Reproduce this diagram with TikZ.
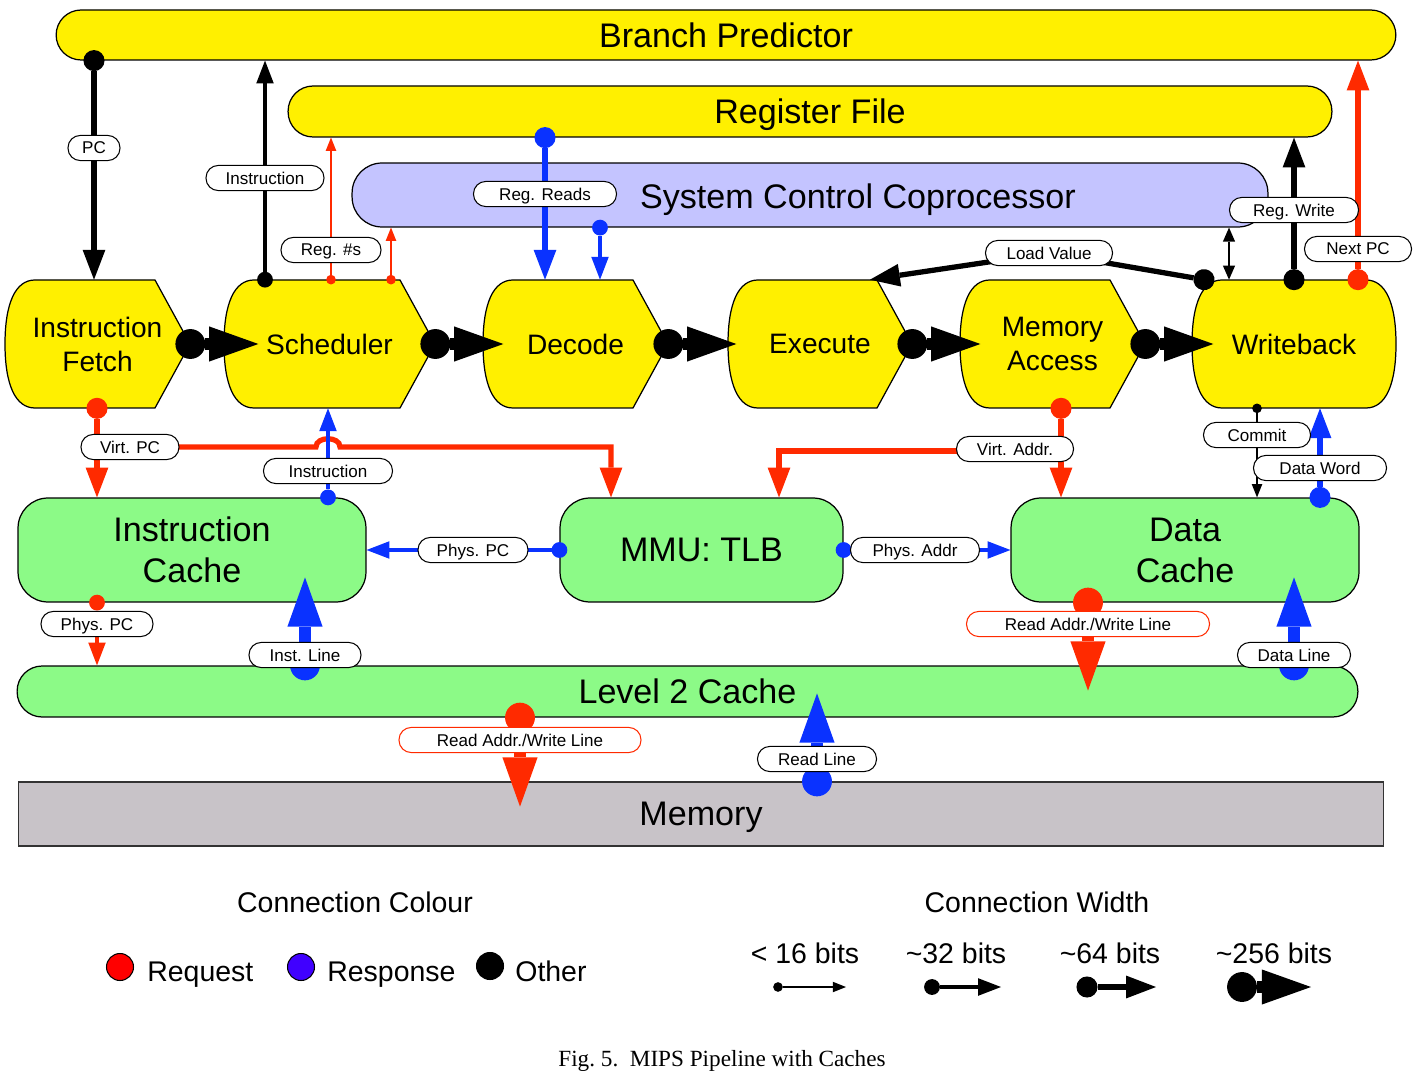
\documentclass[tikz,border=0pt]{standalone}
\usepackage{fontspec}
\setmainfont{Liberation Sans}
\newfontfamily\capfont{Liberation Serif}
\usepackage{xcolor}
\usepackage{tikz}
\usetikzlibrary{arrows.meta}

\definecolor{stageyellow}{RGB}{255,240,0}
\definecolor{cachegreen}{RGB}{140,250,135}
\definecolor{copurple}{RGB}{196,196,255}
\definecolor{memgray}{RGB}{200,195,200}
\definecolor{reqred}{RGB}{255,42,0}
\definecolor{respblue}{RGB}{10,50,255}
\definecolor{legred}{RGB}{255,0,0}
\definecolor{legblue}{RGB}{64,0,255}

\tikzset{
    block/.style={draw, line width=0.7pt, inner sep=0pt, align=center, text depth=0pt,
        font=\fontsize{19.4}{23.2}\selectfont},
    stageshape/.style={draw, fill=stageyellow, line width=0.7pt},
    stagetext/.style={inner sep=0pt, minimum height=2.56cm, align=center, text depth=0pt,
        font=\fontsize{16}{19.3}\selectfont},
    pill/.style={draw, fill=white, line width=0.6pt, rounded corners=7pt,
        inner xsep=0pt, inner ysep=2pt, minimum height=14.3pt, text depth=0pt,
        minimum width=#1*0.02cm, font=\fontsize{9.7}{11}\selectfont},
    redpill/.style={pill=#1, draw=reqred},
    legtext/.style={inner sep=0pt, font=\fontsize{16.2}{19}\selectfont},
    % connection widths
    c16/.style={line width=0.8pt, shorten <=-2.75pt,
        {Circle[length=5.5pt,line width=0pt]}-{Triangle[length=7.5pt,width=6pt,line width=0pt]}},
    c32/.style={line width=2.3pt, shorten <=-4.5pt,
        {Circle[length=9pt,line width=0pt]}-{Triangle[length=13pt,width=10pt,line width=0pt]}},
    c64/.style={line width=3pt, shorten <=-6pt,
        {Circle[length=12pt,line width=0pt]}-{Triangle[length=17pt,width=13pt,line width=0pt]}},
    c256/.style={line width=6.5pt, shorten <=-8.5pt,
        {Circle[length=17pt,line width=0pt]}-{Triangle[length=28pt,width=20pt,line width=0pt]}},
    a64/.style={line width=3pt, -{Triangle[length=17pt,width=13pt,line width=0pt]}},
}

\begin{document}
\begin{tikzpicture}[x=0.02cm, y=-0.02cm]
    \useasboundingbox (0,0) rectangle (1416,1077);

    % Top units
    \node[block, fill=stageyellow, rounded corners=0.5cm, minimum width=26.8cm, minimum height=1cm] (bp) at (726,35) {Branch Predictor};
    \node[block, fill=stageyellow, rounded corners=0.5cm, minimum width=20.88cm, minimum height=1.02cm] (rf) at (810,111.5) {Register File};
    \node[block, fill=copurple, rounded corners=0.6cm, minimum width=18.32cm, minimum height=1.28cm] (scc) at (810,195) {};
    \node[text depth=0pt, font=\fontsize{19.4}{23.2}\selectfont] (tscc) at (858,196) {System Control Coprocessor};

    % Pipeline stages
    \foreach \L/\R/\nm/\txt in {5/190/ifetch/{Instruction\\Fetch}, 224/435/sched/Scheduler, 483/668/decode/Decode, 728/912/exec/Execute, 960/1145/memacc/{Memory\\Access}}{%
        \draw[stageshape] (\L+30,280) -- (\R-35,280) -- (\R,344) -- (\R-35,408) -- (\L+30,408)
            .. controls (\L+10,408) and (\L,384) .. (\L,344)
            .. controls (\L,304) and (\L+10,280) .. cycle;
        \node[stagetext, minimum width={(\R-\L)*0.02cm}] (\nm) at ({(\L+\R)/2},344) {\txt};
    }
    \draw[stageshape] (1222,280) -- (1366,280) .. controls (1386,280) and (1396,304) .. (1396,344)
        .. controls (1396,384) and (1386,408) .. (1366,408) -- (1222,408)
        .. controls (1202,408) and (1192,384) .. (1192,344)
        .. controls (1192,304) and (1202,280) .. cycle;
    \node[stagetext, minimum width=4.08cm] (wback) at (1294,344) {Writeback};

    % Caches and memory
    \node[block, fill=cachegreen, rounded corners=0.6cm, minimum width=6.96cm, minimum height=2.08cm] (icache) at (192,550) {Instruction\\Cache};
    \node[block, fill=cachegreen, rounded corners=0.6cm, minimum width=5.66cm, minimum height=2.08cm] (mmu) at (701.5,550) {MMU: TLB};
    \node[block, fill=cachegreen, rounded corners=0.6cm, minimum width=6.96cm, minimum height=2.08cm] (dcache) at (1185,550) {Data\\Cache};
    \node[block, fill=cachegreen, rounded corners=0.5cm, minimum width=26.82cm, minimum height=1.02cm] (l2) at (687.5,691.5) {Level 2 Cache};
    \node[block, fill=memgray, draw=black!80, minimum width=27.32cm, minimum height=1.28cm] (mem) at (701,814) {Memory};

    % Label and bend positions
    \coordinate (pPC) at (94,148);
    \coordinate (pInstrUp) at (265,178);
    \coordinate (pRegNums) at (331,250);
    \coordinate (xRegNums) at (391,0);
    \coordinate (pRegReads) at (545,194);
    \coordinate (xSccDec) at (600,0);
    \coordinate (pLoad) at (1049,253);
    \coordinate (xLoadA) at (1204,0);
    \coordinate (xLoadB) at (870,0);
    \coordinate (xSccWb) at (1229,0);
    \coordinate (pRegWrite) at (1294,210);
    \coordinate (pNextPC) at (1358,249);
    \coordinate (pVirtPC) at (130,447);
    \coordinate (jVirtPC) at (97,447);
    \coordinate (cVirtPC) at (611,447);
    \coordinate (pInstrDn) at (328,471);
    \coordinate (pPhysPC) at (473,550);
    \coordinate (pPhysAddr) at (915,550);
    \coordinate (pVirtAddr) at (1015,449);
    \coordinate (jVirtAddr) at (1061,451);
    \coordinate (cVirtAddr) at (779,451);
    \coordinate (pCommit) at (1257,435);
    \coordinate (pDataWord) at (1320,468);
    \coordinate (pPhysPCb) at (97,624);
    \coordinate (pInstLine) at (305,655);
    \coordinate (pRAWLd) at (1088,624);
    \coordinate (pDataLine) at (1294,655);
    \coordinate (pRAWLm) at (520,740);
    \coordinate (pReadLine) at (817,759);

    % Stage to stage
    \foreach \a in {ifetch,sched,decode,exec,memacc}
        \draw[c256] (\a.east) -- ++(68,0);

    % Connections
    \draw[c64] (bp.south -| pPC) -- (ifetch.north -| pPC);
    \draw[c32] (sched.north -| pInstrUp) -- (bp.south -| pInstrUp);
    \draw[c16, reqred] (sched.north -| pRegNums) -- (rf.south -| pRegNums);
    \draw[c16, reqred] (sched.north -| xRegNums) -- (scc.south -| xRegNums);
    \draw[c64, respblue] (rf.south -| pRegReads) -- (decode.north -| pRegReads);
    \draw[c32, respblue] (scc.south -| xSccDec) -- (decode.north -| xSccDec);
    \draw[c64] (wback.north -| xLoadA) -- (pLoad) -- (exec.north -| xLoadB);
    \draw[line width=1.4pt, {Triangle[length=8pt,width=7pt,line width=0pt]}-{Triangle[length=8pt,width=7pt,line width=0pt]}] (scc.south -| xSccWb) -- (wback.north -| xSccWb);
    \draw[c64] (wback.north -| pRegWrite) -- (rf.south -| pRegWrite);
    \draw[c64, reqred] (wback.north -| pNextPC) -- (bp.south -| pNextPC);

    \draw[c64, reqred] (ifetch.south -| jVirtPC) -- (icache.north -| jVirtPC);
    \draw[a64, reqred] (jVirtPC) -- (316,447) .. controls (316,436) and (340,436) .. (340,447)
        -- (cVirtPC) -- (mmu.north -| cVirtPC);
    \draw[c32, respblue] (icache.north -| pInstrDn) -- (sched.south -| pInstrDn);
    \draw[c32, respblue] (mmu.west) -- (icache.east);
    \draw[c32, respblue] (mmu.east) -- (dcache.west);
    \draw[c64, reqred] (memacc.south -| jVirtAddr) -- (dcache.north -| jVirtAddr);
    \draw[a64, reqred] (jVirtAddr) -- (cVirtAddr) -- (mmu.north -| cVirtAddr);
    \draw[c16] (wback.south -| pCommit) -- (dcache.north -| pCommit);
    \draw[c64, respblue] (dcache.north -| pDataWord) -- (wback.south -| pDataWord);

    \draw[c32, reqred] (icache.south -| pPhysPCb) -- (l2.north -| pPhysPCb);
    \draw[c256, respblue] (l2.north -| pInstLine) -- ++(0,-88);
    \draw[c256, reqred] (dcache.south -| pRAWLd) -- ++(0,88);
    \draw[c256, respblue] (l2.north -| pDataLine) -- ++(0,-88);
    \draw[c256, reqred] (l2.south -| pRAWLm) -- ++(0,89);
    \draw[c256, respblue] (mem.north -| pReadLine) -- ++(0,-88);

    % Labels
    \node[pill=52] (lPC) at (pPC) {PC};
    \node[pill=118] (lInstrUp) at (pInstrUp) {Instruction};
    \node[pill=100] (lRegNums) at (pRegNums) {Reg. \#s};
    \node[pill=143] (lRegReads) at (pRegReads) {Reg. Reads};
    \node[pill=127] (lLoad) at (pLoad) {Load Value};
    \node[pill=129] (lRegWrite) at (pRegWrite) {Reg. Write};
    \node[pill=107] (lNextPC) at (pNextPC) {Next PC};
    \node[pill=98] (lVirtPC) at (pVirtPC) {Virt. PC};
    \node[pill=129] (lInstrDn) at (pInstrDn) {Instruction};
    \node[pill=110] (lPhysPC) at (pPhysPC) {Phys. PC};
    \node[pill=129] (lPhysAddr) at (pPhysAddr) {Phys. Addr};
    \node[pill=117] (lVirtAddr) at (pVirtAddr) {Virt. Addr.};
    \node[pill=107] (lCommit) at (pCommit) {Commit};
    \node[pill=133] (lDataWord) at (pDataWord) {Data Word};
    \node[pill=112] (lPhysPCb) at (pPhysPCb) {Phys. PC};
    \node[pill=112] (lInstLine) at (pInstLine) {Inst. Line};
    \node[redpill=243] (lRAWLd) at (pRAWLd) {Read Addr./Write Line};
    \node[pill=113] (lDataLine) at (pDataLine) {Data Line};
    \node[redpill=242] (lRAWLm) at (pRAWLm) {Read Addr./Write Line};
    \node[pill=119] (lReadLine) at (pReadLine) {Read Line};

    % Legend: colour
    \node[legtext] (colhead) at (355,902) {Connection Colour};
    \draw[line width=0.6pt, fill=legred] (120,967) circle (0.27cm);
    \draw[line width=0.6pt, fill=legblue] (301,967) circle (0.27cm);
    \draw[line width=0.6pt, fill=black] (490,966) circle (0.27cm);
    \node[legtext, anchor=base west] (lreq) at (147,981) {Request};
    \node[legtext, anchor=base west] (lresp) at (327,981) {Response};
    \node[legtext, anchor=base west] (loth) at (515,981) {Other};

    % Legend: width
    \node[legtext] (widhead) at (1037,902) {Connection Width};
    \node[legtext, anchor=base] (w16) at (805,963) {< 16 bits};
    \node[legtext, anchor=base] (w32) at (956,963) {\textasciitilde32 bits};
    \node[legtext, anchor=base] (w64) at (1110,963) {\textasciitilde64 bits};
    \node[legtext, anchor=base] (w256) at (1274,963) {\textasciitilde256 bits};
    \coordinate (s16) at (778,987);
    \coordinate (s32) at (932,987);
    \coordinate (s64) at (1087,987);
    \coordinate (s256) at (1242,987);
    \draw[c16] (s16) -- ++(68,0);
    \draw[c32] (s32) -- ++(69,0);
    \draw[c64] (s64) -- ++(69,0);
    \draw[c256] (s256) -- ++(69,0);

    \node[font=\capfont\fontsize{13.2}{15}\selectfont] (caption) at (722,1061) {Fig.\ 5.\ \ MIPS Pipeline with Caches};
\end{tikzpicture}
\end{document}
